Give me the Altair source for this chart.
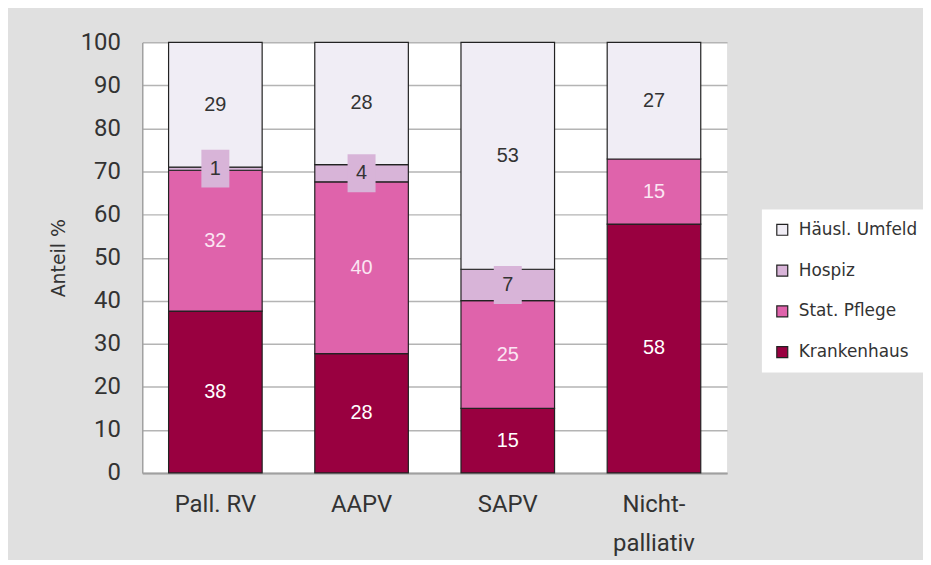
import altair as alt
import pandas as pd

# ---- data ----
categories = ["Pall. RV", "AAPV", "SAPV", "Nicht-palliativ"]
series_bottom_to_top = ["Krankenhaus", "Stat. Pflege", "Hospiz", "Häusl. Umfeld"]
krankenhaus = [37.6, 27.7, 15.0, 57.8]
stat_pflege = [32.7, 39.9, 25.0, 15.1]
hospiz = [0.7, 4.0, 7.3, 0.0]
haeusl_umfeld = [29.0, 28.4, 52.7, 27.1]
labels_krankenhaus = ["38", "28", "15", "58"]
labels_stat_pflege = ["32", "40", "25", "15"]
labels_hospiz = ["1", "4", "7", ""]
labels_haeusl_umfeld = ["29", "28", "53", "27"]

legend_order = ["Häusl. Umfeld", "Hospiz", "Stat. Pflege", "Krankenhaus"]
legend_colors = ["#f0edf5", "#d8b4d8", "#df63ab", "#990040"]
text_colors = {"Krankenhaus": "#ffffff", "Stat. Pflege": "#fbe6f3",
               "Hospiz": "#333333", "Häusl. Umfeld": "#333333"}

values = {"Krankenhaus": krankenhaus, "Stat. Pflege": stat_pflege,
          "Hospiz": hospiz, "Häusl. Umfeld": haeusl_umfeld}
labels = {"Krankenhaus": labels_krankenhaus, "Stat. Pflege": labels_stat_pflege,
          "Hospiz": labels_hospiz, "Häusl. Umfeld": labels_haeusl_umfeld}

rows = []
for i, cat in enumerate(categories):
    base = 0.0
    for s in series_bottom_to_top:
        v = values[s][i]
        if v > 0:
            rows.append({"cat": cat, "series": s, "start": base, "end": base + v,
                         "mid": base + v / 2, "label": labels[s][i],
                         "tcol": text_colors[s]})
        base += v
df = pd.DataFrame(rows)

TICK_FONT = "Roboto"
TEXT_FONT = "DejaVu Sans"
BAR_FONT = "Liberation Sans"

x_enc = alt.X("cat:N", sort=categories, title=None,
              scale=alt.Scale(paddingInner=0.36, paddingOuter=0.18),
              axis=alt.Axis(labelAngle=0, ticks=False, grid=False,
                            domainColor="#a0a0a0", domainWidth=2,
                            labelFont=TICK_FONT, labelFontSize=24,
                            labelColor="#333333",
                            labelPadding=20, labelLineHeight=39,
                            labelExpr="datum.value == 'Nicht-palliativ' ? ['Nicht-', 'palliativ'] : datum.value"))

y_scale = alt.Scale(domain=[0, 100], nice=False)

bars = alt.Chart(df).mark_bar(stroke="#222222", strokeWidth=1.2).encode(
    x=x_enc,
    y=alt.Y("start:Q", scale=y_scale, title="Anteil %",
            axis=alt.Axis(values=list(range(0, 101, 10)), ticks=False,
                          labelFont=TICK_FONT, labelFontSize=24,
                          labelColor="#333333", labelPadding=22,
                          domainColor="#a0a0a0", domainWidth=1.5,
                          gridColor="#b4b4b4", gridWidth=1.5,
                          titleFont=TEXT_FONT, titleFontSize=19,
                          titleFontWeight="normal",
                          titleColor="#333333", titlePadding=12)),
    y2="end:Q",
    color=alt.Color("series:N",
                    scale=alt.Scale(domain=legend_order, range=legend_colors),
                    legend=alt.Legend(title=None, orient="none", legendX=623, legendY=168,
                                      fillColor="white", padding=12,
                                      symbolType="square", symbolSize=121,
                                      symbolStrokeColor="#222222", symbolStrokeWidth=1.2,
                                      symbolOpacity=1,
                                      labelFont=TEXT_FONT,
                                      labelFontSize=17, labelColor="#333333",
                                      labelOffset=8, rowPadding=23)),
)

box_path = "M-0.74,-1H0.74V1H-0.74Z"
boxes = alt.Chart(df).transform_filter(
    alt.datum.series == "Hospiz"
).mark_point(shape=box_path, size=1444, filled=True, fill="#d8b4d8",
             opacity=1, strokeWidth=0).encode(
    x=alt.X("cat:N", sort=categories),
    y=alt.Y("mid:Q", scale=y_scale),
)

texts = alt.Chart(df).mark_text(fontSize=20, font=BAR_FONT).encode(
    x=alt.X("cat:N", sort=categories),
    y=alt.Y("mid:Q", scale=y_scale),
    text="label:N",
    color=alt.Color("tcol:N", scale=None),
)

chart = alt.layer(bars, boxes, texts).properties(
    width=588, height=433,
    background="#e0e0e0",
    padding={"left": 135, "top": 33, "right": 197, "bottom": 86},
    autosize=alt.AutoSizeParams(type="none"),
).configure_view(
    fill="white", stroke=None
)

chart.save("out.html", embed_options={"renderer": "svg", "actions": False})
